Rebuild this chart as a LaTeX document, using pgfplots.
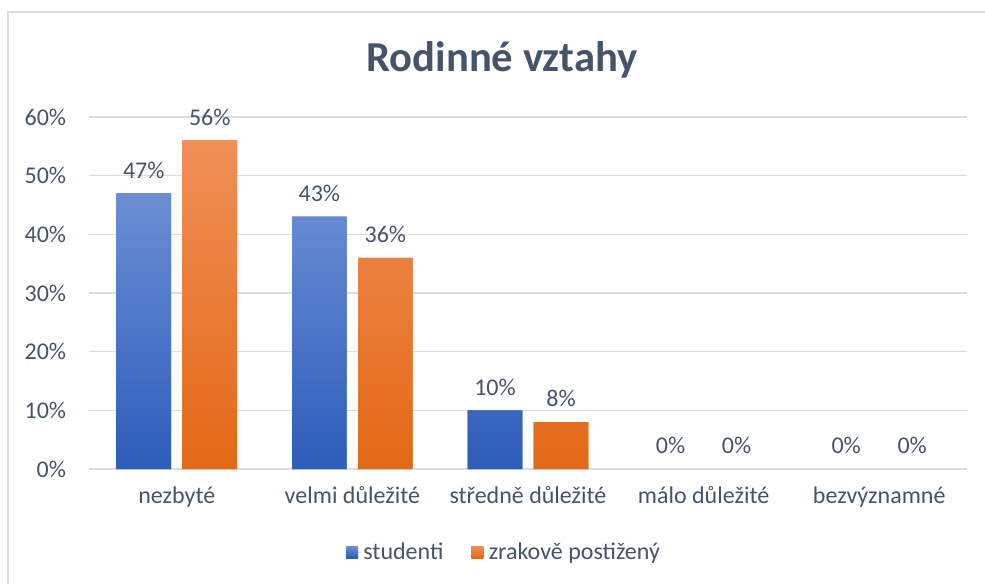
\documentclass[border=0pt]{standalone}
\usepackage{pgfplots}
\pgfplotsset{compat=1.18}
\usepackage{fontspec}
\setmainfont{Carlito}
\definecolor{txt}{HTML}{44546A}
\definecolor{grd}{HTML}{D9DDE3}
\definecolor{btop}{HTML}{6C8ED4}
\definecolor{bbot}{HTML}{2C5DBA}
\definecolor{otop}{HTML}{F08F58}
\definecolor{obot}{HTML}{E36915}
\begin{document}
\begin{tikzpicture}
\path[use as bounding box] (0,0) rectangle (738.75pt,-438pt);
\draw[grd, line width=0.8pt] (6pt,-440pt) -- (6pt,-9pt) -- (740pt,-9pt);
\node[txt, font=\fontsize{32}{38}\selectfont\bfseries] at (376.5pt,-45pt) {Rodinné vztahy};
\begin{axis}[
  at={(66.75pt,-351.75pt)}, anchor=south west,
  scale only axis, width=658.5pt, height=264pt,
  xmin=-0.5, xmax=4.5, ymin=0, ymax=60,
  xtick={0,1,2,3,4},
  xticklabels={nezbyté, velmi důležité, středně důležité, málo důležité, bezvýznamné},
  ytick={0,10,20,30,40,50,60},
  yticklabel={\pgfmathprintnumber{\tick}\%},
  /pgf/number format/assume math mode=true,
  ymajorgrids, major grid style={grd, line width=0.9pt},
  axis line style={draw=none}, tick style={draw=none},
  tick label style={txt, font=\fontsize{18}{21}\selectfont},
  yticklabel style={inner sep=0pt, xshift=-17pt},
  xticklabel style={inner sep=0pt, yshift=-9pt},
  ybar, bar width=40.9pt,
  nodes near coords={\pgfmathprintnumber{\pgfplotspointmeta}\%},
  nodes near coords style={txt, font=\fontsize{18}{21}\selectfont, anchor=south, inner sep=0pt, yshift=11pt, /pgf/number format/assume math mode=true},
  legend style={at={(0.473,-0.236)}, anchor=center, draw=none, fill=none, legend columns=2, font=\fontsize{18}{21}\selectfont, text=txt, /tikz/every even column/.append style={column sep=19pt}},
  legend image code/.code={\fill[#1] (0pt,-4.5pt) rectangle (9pt,4.5pt); \path (0pt,0pt) -- (11pt,0pt);},
]
\addplot[bar shift=-24.75pt, draw=none, top color=btop, bottom color=bbot, fill=bbot] coordinates {(0,47) (1,43) (2,10)};
\addplot[bar shift=24.75pt, draw=none, top color=otop, bottom color=obot, fill=obot] coordinates {(0,56) (1,36) (2,8)};
\addplot[bar shift=-24.75pt, draw=none, fill=none, forget plot] coordinates {(3,0) (4,0)};
\addplot[bar shift=24.75pt, draw=none, fill=none, forget plot] coordinates {(3,0) (4,0)};
\legend{studenti, zrakově postižený}
\end{axis}
\end{tikzpicture}
\end{document}
